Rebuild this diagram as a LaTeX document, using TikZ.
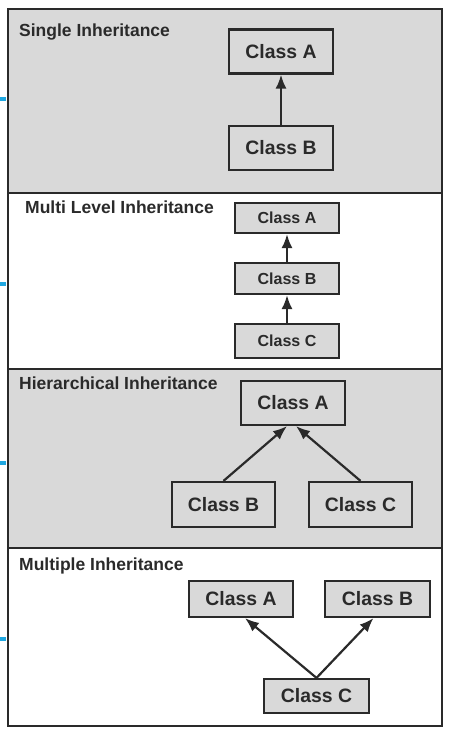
\documentclass[tikz,border=0pt]{standalone}
\usepackage{fontspec}
\setmainfont{Liberation Sans}
\usetikzlibrary{arrows.meta}
\definecolor{panelgray}{HTML}{D9D9D9}
\definecolor{linegray}{HTML}{2A2A2A}
\definecolor{tickcyan}{HTML}{1EA7E1}
\begin{document}
\begin{tikzpicture}[x=1pt,y=-1pt,
  paneltitle/.style={anchor=west,inner sep=0pt,text=linegray,font=\bfseries\fontsize{17.5}{20}\selectfont},
  classbox/.style={draw=linegray,line width=2.2pt,fill=panelgray,text=linegray,inner sep=0pt,minimum width=104pt,font=\bfseries\fontsize{19.4}{22}\selectfont},
  smallbox/.style={classbox,font=\bfseries\fontsize{16}{18}\selectfont},
  inherit/.style={draw=linegray,line width=2.2pt,-{Latex[length=14pt,width=11pt]}}]
\useasboundingbox (0,0) rectangle (450,735);
% panels
\fill[panelgray] (8,9) rectangle (442,193);
\fill[white] (8,193) rectangle (442,369);
\fill[panelgray] (8,369) rectangle (442,548);
\fill[white] (8,548) rectangle (442,726);
\draw[linegray,line width=2.2pt] (8,193) -- (442,193);
\draw[linegray,line width=2.2pt] (8,369) -- (442,369);
\draw[linegray,line width=2.2pt] (8,548) -- (442,548);
\draw[linegray,line width=2.2pt] (8,9) rectangle (442,726);
% side marks
\fill[tickcyan] (0,97) rectangle (6,101);
\fill[tickcyan] (0,282) rectangle (6,286);
\fill[tickcyan] (0,461) rectangle (6,465);
\fill[tickcyan] (0,637) rectangle (6,641);

% single
\node[paneltitle] (t1) at (19,32) {Single Inheritance};
\node[classbox,minimum height=44pt] (sa) at (281,51.5) {Class A};
\node[classbox,minimum height=44pt] (sb) at (281,148) {Class B};
\draw[inherit] (sb) -- (sa);

% multi level
\node[paneltitle] (t2) at (25,207) {Multi Level Inheritance};
\node[smallbox,minimum height=30pt] (ma) at (287,218) {Class A};
\node[smallbox,minimum height=31pt] (mb) at (287,278.5) {Class B};
\node[smallbox,minimum height=34pt] (mc) at (287,341) {Class C};
\draw[inherit] (mb) -- (ma);
\draw[inherit] (mc) -- (mb);

% hierarchical
\node[paneltitle] (t3) at (19,383) {Hierarchical Inheritance};
\node[classbox,minimum height=44pt] (ha) at (293,403) {Class A};
\node[classbox,minimum width=103pt,minimum height=45pt] (hb) at (223.5,504.5) {Class B};
\node[classbox,minimum width=103pt,minimum height=45pt] (hc) at (360.5,504.5) {Class C};
\draw[inherit] (hb.north) -- ([xshift=-6pt]ha.south);
\draw[inherit] (hc.north) -- ([xshift=3pt]ha.south);

% multiple
\node[paneltitle] (t4) at (19,566) {Multiple Inheritance};
\node[classbox,minimum height=36pt] (pa) at (241,599) {Class A};
\node[classbox,minimum width=105pt,minimum height=36pt] (pb) at (377.5,599) {Class B};
\node[classbox,minimum width=105pt,minimum height=34pt] (pc) at (316.5,696) {Class C};
\draw[inherit] (pc.north) -- ([xshift=4pt]pa.south);
\draw[inherit] (pc.north) -- ([xshift=-4pt]pb.south);
\end{tikzpicture}
\end{document}
